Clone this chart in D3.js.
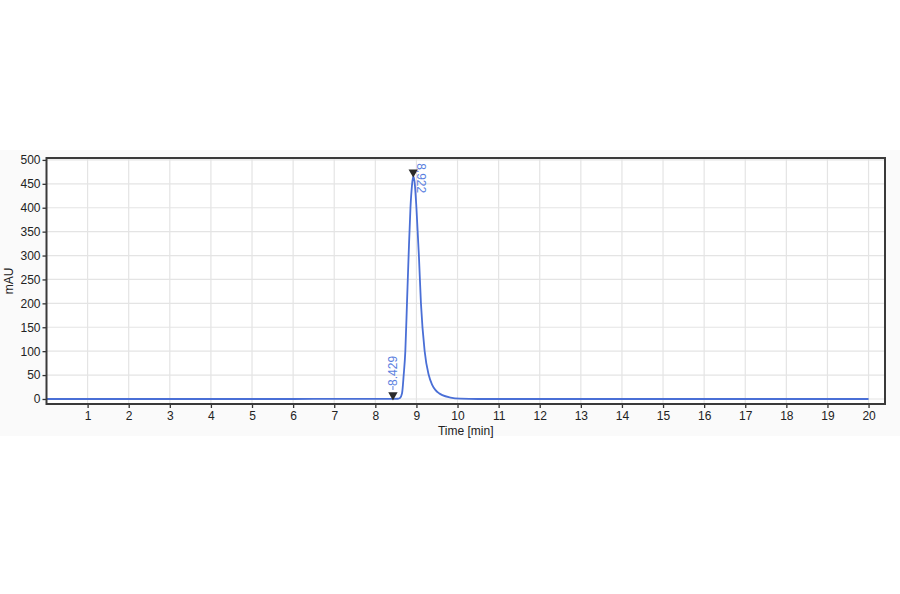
<!DOCTYPE html>
<html>
<head>
<meta charset="utf-8">
<script src="https://cdn.jsdelivr.net/npm/d3@7"></script>
<style>
  body { margin: 0; background: #fff; }
  svg { display: block; font-family: "Liberation Sans", Arial, sans-serif; }
</style>
</head>
<body>
<svg id="chart" width="900" height="594"></svg>
<script>
// chromatogram trace
const timeMin = [0, 2, 4, 6, 7, 8, 8.43, 8.55, 8.6, 8.65, 8.69, 8.73, 8.77, 8.81, 8.855, 8.89, 8.922,
                 8.96, 9.0, 9.06, 9.11, 9.2, 9.3, 9.38, 9.46, 9.55, 9.63, 9.83, 10.07, 10.5, 12, 15, 18, 20];
const mAU = [0, 0, 0, 0, 0.3, 0.3, 0.2, 0.5, 2, 12, 50, 100, 200, 300, 400, 445, 466,
             450, 400, 300, 200, 100, 50, 30, 19, 12, 8, 3, 0.8, 0, 0, 0, 0, 0];
const peakTimes = [8.429, 8.922];
const peakHeights = [0, 466];
const xTicks = d3.range(1, 21);
const yTicks = d3.range(0, 501, 50);

const svg = d3.select("#chart");
const plotL = 46.5, plotR = 885, plotT = 158, plotB = 404;

const x = d3.scaleLinear().domain([0, 20.4]).range([plotL, plotR]);
const y = d3.scaleLinear().domain([-10.5, 504]).range([plotB, plotT]);

// faint backdrop band
svg.append("rect")
    .attr("x", 0).attr("y", 150).attr("width", 900).attr("height", 286)
    .attr("fill", "#fafafa");
svg.append("rect")
    .attr("x", plotL).attr("y", plotT).attr("width", plotR - plotL).attr("height", plotB - plotT)
    .attr("fill", "#fff");

// grid
svg.append("g").selectAll("line").data(xTicks).join("line")
    .attr("x1", d => x(d)).attr("x2", d => x(d))
    .attr("y1", plotT).attr("y2", plotB)
    .attr("stroke", "#e4e4e4").attr("stroke-width", 1.2);
svg.append("g").selectAll("line").data(yTicks).join("line")
    .attr("x1", plotL).attr("x2", plotR)
    .attr("y1", d => y(d)).attr("y2", d => y(d))
    .attr("stroke", "#e4e4e4").attr("stroke-width", 1.2);

// trace
const line = d3.line()
    .x((d, i) => x(timeMin[i]))
    .y(d => y(d))
    .curve(d3.curveMonotoneX);
svg.append("path")
    .datum(mAU)
    .attr("d", line)
    .attr("fill", "none")
    .attr("stroke", "#4a6fd6")
    .attr("stroke-width", 1.8);

// axes
const xAxis = d3.axisBottom(x).tickValues(xTicks).tickSize(4).tickPadding(3).tickFormat(d3.format("d"));
const yAxis = d3.axisLeft(y).tickValues(yTicks).tickSize(4).tickPadding(2).tickFormat(d3.format("d"));

const gx = svg.append("g").attr("transform", `translate(0,${plotB})`).call(xAxis);
const gy = svg.append("g").attr("transform", `translate(${plotL},0)`).call(yAxis);
[gx, gy].forEach(g => {
    g.select(".domain").remove();
    g.selectAll(".tick line").attr("stroke", "#333").attr("stroke-width", 1.3);
    g.selectAll(".tick text").attr("fill", "#222").style("font-size", "12px")
        .style("font-family", "'Liberation Sans', Arial, sans-serif");
});

// frame
svg.append("rect")
    .attr("x", plotL).attr("y", plotT).attr("width", plotR - plotL).attr("height", plotB - plotT)
    .attr("fill", "none").attr("stroke", "#3a3a3a").attr("stroke-width", 2);

// peak markers
const tri = d3.symbol().type(d3.symbolTriangle).size(38);
svg.append("g").selectAll("path").data(peakTimes).join("path")
    .attr("d", tri)
    .attr("transform", (d, i) => `translate(${x(d)},${y(peakHeights[i]) - 4}) rotate(180)`)
    .attr("fill", "#2a2a2a");

// peak labels
svg.append("line")
    .attr("x1", x(peakTimes[0])).attr("x2", x(peakTimes[0]))
    .attr("y1", y(peakHeights[0]) - 9).attr("y2", y(peakHeights[0]) - 13)
    .attr("stroke", "#5b7fe0").attr("stroke-width", 1);
svg.append("text")
    .attr("transform", `translate(${x(peakTimes[0]) + 4.5},${y(peakHeights[0]) - 13}) rotate(-90)`)
    .attr("fill", "#5b7fe0").style("font-size", "12px")
    .text(d3.format(".3f")(peakTimes[0]));
svg.append("text")
    .attr("transform", `translate(${x(peakTimes[1]) + 3.5},${y(peakHeights[1]) - 13}) rotate(90)`)
    .attr("fill", "#5b7fe0").style("font-size", "12px")
    .text(d3.format(".3f")(peakTimes[1]));

// axis titles
svg.append("text")
    .attr("x", (plotL + plotR) / 2).attr("y", 435)
    .attr("text-anchor", "middle").attr("fill", "#222").style("font-size", "12px")
    .text("Time [min]");
svg.append("text")
    .attr("transform", `translate(13,${(plotT + plotB) / 2}) rotate(-90)`)
    .attr("text-anchor", "middle").attr("fill", "#222").style("font-size", "12px")
    .text("mAU");
</script>
</body>
</html>
